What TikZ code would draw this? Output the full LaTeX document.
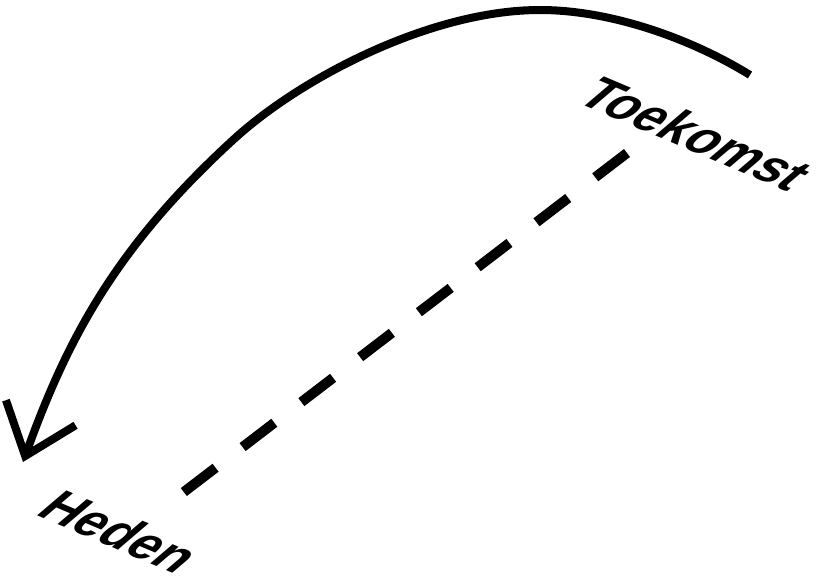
\documentclass[tikz,border=0pt]{standalone}
\usepackage{fontspec}
\setmainfont{Liberation Sans}
\newfontfamily\slantfont[FakeSlant=0.5]{Liberation Sans Bold}
\usetikzlibrary{arrows.meta}
\tikzset{
	label text/.style={font=\fontsize{50}{54}\slantfont, rotate=-23, inner sep=0pt},
	time line/.style={line width=10pt, dash pattern=on 40pt off 34pt},
	time arc/.style={line width=8pt, -{Straight Barb[length=46pt,width=74pt,line width=8pt]}}
}
\begin{document}
\begin{tikzpicture}[x=1pt,y=-1pt]
	\useasboundingbox (0,0) rectangle (822,584);
	\node[label text] (toekomst) at (688,130) {Toekomst};
	\node[label text] (heden) at (112,528) {Heden};
	\coordinate (future) at (627,153);
	\coordinate (now) at (176,498);
	\coordinate (start) at (750,75);
	\coordinate (top) at (540,10);
	\coordinate (bend) at (233,140);
	\coordinate (tip) at (23,462);
	\draw[time line] (future) -- (now);
	\draw[time arc] (start) .. controls (690,38) and (610,10) .. (top)
		.. controls (430,10) and (299,79) .. (bend)
		.. controls (115,248) and (67,340) .. (tip);
\end{tikzpicture}
\end{document}
